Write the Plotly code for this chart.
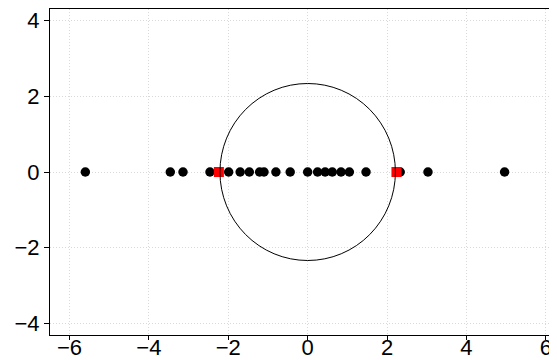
import plotly.graph_objects as go
import math

# Black points (all on the real axis)
points_x = [-5.60, -3.46, -3.14, -2.46, -1.99, -1.70, -1.47, -1.21, -1.10, -0.80, -0.44,
            0.0, 0.25, 0.44, 0.62, 0.84, 1.05, 1.47, 2.33, 3.03, 4.96]
points_y = [0.0] * len(points_x)

# Red squares
red_x = [-math.sqrt(5), math.sqrt(5)]
red_y = [0.0, 0.0]

# Circle radii (data units)
circle_rx = 2.21
circle_ry = 2.34

x_ticks = [-6, -4, -2, 0, 2, 4, 6]
y_ticks = [-4, -2, 0, 2, 4]

fig = go.Figure()
fig.add_trace(go.Scatter(x=points_x, y=points_y, mode="markers",
                         marker=dict(symbol="circle", size=9.5, color="black",
                                     line=dict(width=0)),
                         showlegend=False))
fig.add_trace(go.Scatter(x=red_x, y=red_y, mode="markers",
                         marker=dict(symbol="square", size=10, color="#ff0000",
                                     line=dict(width=0)),
                         showlegend=False))

fig.add_shape(type="circle", xref="x", yref="y",
              x0=-circle_rx, x1=circle_rx, y0=-circle_ry, y1=circle_ry,
              line=dict(color="black", width=1), layer="above")

axis_common = dict(
    showgrid=True, gridcolor="#d9d9d9", gridwidth=1, griddash="1px,2px",
    zeroline=False, showline=True, linecolor="black", linewidth=1,
    ticks="outside", tickcolor="black", tickwidth=1, automargin=False,
    tickfont=dict(family="Liberation Sans, Arial, sans-serif", size=22, color="black"),
)

fig.update_xaxes(range=[-6.49, 6.28], tickvals=x_ticks,
                 ticktext=[("−" + str(abs(v))) if v < 0 else str(v) for v in x_ticks],
                 mirror=True, ticklen=4, ticklabelstandoff=-11, **axis_common)
fig.update_yaxes(range=[-4.31, 4.31], tickvals=y_ticks,
                 ticktext=[("−" + str(abs(v))) if v < 0 else str(v) for v in y_ticks],
                 mirror=True, ticklen=5, **axis_common)

# the page body adds an 8px margin, so the figure is sized/offset to compensate
fig.update_layout(width=549, height=352,
                  margin=dict(l=42, r=0, t=1, b=25),
                  paper_bgcolor="white", plot_bgcolor="white",
                  showlegend=False)

fig.write_html("out.html")
